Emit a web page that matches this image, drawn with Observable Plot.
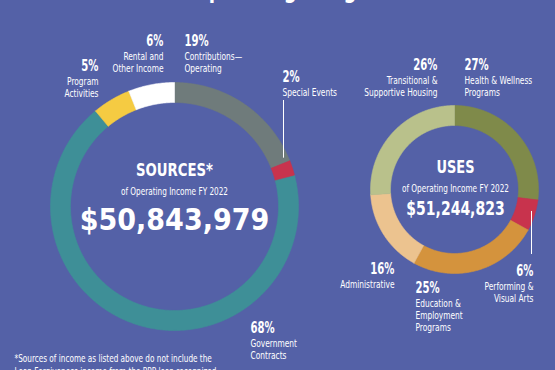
<!DOCTYPE html>
<html><head><meta charset="utf-8">
<script src="https://cdn.jsdelivr.net/npm/d3@7"></script>
<script src="https://cdn.jsdelivr.net/npm/@observablehq/plot@0.6"></script>
<style>
html,body{margin:0;padding:0;background:#5461a7;}
#chart{width:555px;height:370px;overflow:hidden;}
#chart svg{display:block;}
</style></head><body><div id="chart"></div>
<script>
// ---- data ----
const sourceCategories = ["Contributions—Operating","Special Events","Government Contracts","Program Activities","Rental and Other Income"];
const sourceValues = [19, 2, 68, 5, 6];
const sourceLabelLines = [["Contributions—","Operating"],["Special Events"],["Government","Contracts"],["Program","Activities"],["Rental and","Other Income"]];
const sourceColors = ["#6f7b7b","#c8334d","#3e8f97","#f5cb42","#ffffff"];

const useCategories = ["Health & Wellness Programs","Performing & Visual Arts","Education & Employment Programs","Administrative","Transitional & Supportive Housing"];
const useValues = [27, 6, 25, 16, 26];
const useLabelLines = [["Health & Wellness","Programs"],["Performing &","Visual Arts"],["Education &","Employment","Programs"],["Administrative"],["Transitional &","Supportive Housing"]];
const useColors = ["#7f8a4a","#c8334d","#d4933d","#ecc38f","#b9c18b"];

const sourcesTitle = "SOURCES*";
const usesTitle = "USES";
const subTitle = "of Operating Income FY 2022";
const sourcesTotal = "$50,843,979";
const usesTotal = "$51,244,823";
const pageTitle = "Operating Budget";
const footnote = ["*Sources of income as listed above do not include the","Loan Forgiveness income from the PPP loan recognized"];

// ---- layout (positions only) ----
const W = 555, H = 370, BG = "#5461a7";
const FONT = "'DejaVu Sans Condensed','DejaVu Sans',sans-serif";
const rings = {
  sources: {cx: 174, cy: 206, r0: 104, r1: 124},
  uses:    {cx: 454, cy: 189, r0: 64,  r1: 84}
};
// label anchors: [x, pct baseline y, text anchor]
const sourceLabelPos = [[184,45,"start"],[282,81,"start"],[250,332,"start"],[98,70,"end"],[163,45,"end"]];
const useLabelPos = [[464,69,"start"],[533,275,"end"],[415,292,"start"],[394,273,"end"],[437,69,"end"]];
const leaders = {sources: {index: 1, x: 283, y: 100}, uses: {index: 1, x: 531, y: 254}};

function ringPolys(values, colors, ring, key) {
  const total = d3.sum(values);
  const pts = [];
  let acc = 0;
  values.forEach((v, i) => {
    const a0 = acc / total * 2 * Math.PI, a1 = (acc + v) / total * 2 * Math.PI;
    acc += v;
    const n = Math.max(4, Math.ceil((a1 - a0) / 0.01));
    const poly = [];
    for (let k = 0; k <= n; k++) { const a = a0 + (a1 - a0) * k / n; poly.push([ring.cx + ring.r1 * Math.sin(a), ring.cy - ring.r1 * Math.cos(a)]); }
    for (let k = n; k >= 0; k--) { const a = a0 + (a1 - a0) * k / n; poly.push([ring.cx + ring.r0 * Math.sin(a), ring.cy - ring.r0 * Math.cos(a)]); }
    poly.push(poly[0]);
    poly.forEach(([x, y]) => pts.push({x, y, key: key + i, color: colors[i]}));
  });
  return pts;
}
function midPoint(values, idx, ring) {
  const total = d3.sum(values);
  const before = d3.sum(values.slice(0, idx));
  const a = (before + values[idx] / 2) / total * 2 * Math.PI;
  return [ring.cx + ring.r1 * Math.sin(a), ring.cy - ring.r1 * Math.cos(a)];
}

const arcPts = [
  ...ringPolys(sourceValues, sourceColors, rings.sources, "s"),
  ...ringPolys(useValues, useColors, rings.uses, "u")
];

const pctLabels = [], catLabels = [];
sourceValues.forEach((v, i) => {
  const [x, y, a] = sourceLabelPos[i];
  pctLabels.push({x, y, a, t: v + "%"});
  catLabels.push({x, y: y + 6, a, t: sourceLabelLines[i].join("\n")});
});
useValues.forEach((v, i) => {
  const [x, y, a] = useLabelPos[i];
  pctLabels.push({x, y, a, t: v + "%"});
  catLabels.push({x, y: y + 6, a, t: useLabelLines[i].join("\n")});
});

const sEnd = midPoint(sourceValues, leaders.sources.index, rings.sources);
const uEnd = midPoint(useValues, leaders.uses.index, rings.uses);
const leaderLines = [
  {x: leaders.sources.x, y1: leaders.sources.y, y2: sEnd[1] - 10},
  {x: leaders.uses.x, y1: uEnd[1] - 4, y2: leaders.uses.y}
];

const centerBold = [
  {x: 174, y: 175, t: sourcesTitle, s: 18},
  {x: 174, y: 229, t: sourcesTotal, s: 30},
  {x: 455, y: 172, t: usesTitle, s: 18},
  {x: 455, y: 214, t: usesTotal, s: 19}
];
const centerSub = [
  {x: 174, y: 194, t: subTitle},
  {x: 455, y: 191, t: subTitle}
];

const txt = (data, o) => Plot.text(data, {x: "x", y: "y", text: "t", fill: "white", ...o});
const chart = Plot.plot({
  width: W, height: H, margin: 0,
  x: {domain: [0, W], range: [0, W], axis: null},
  y: {domain: [0, H], range: [0, H], axis: null},
  color: {type: "identity"},
  style: {background: BG, fontFamily: FONT, overflow: "hidden"},
  marks: [
    Plot.text([pageTitle], {x: () => 285, y: () => -3, text: d => d, fill: "white", fontSize: 24, fontWeight: "bold", lineAnchor: "bottom", textAnchor: "middle"}),
    Plot.line(arcPts, {x: "x", y: "y", z: "key", fill: "color", stroke: "color", strokeWidth: 0.6, curve: "linear"}),
    Plot.ruleX(leaderLines, {x: "x", y1: "y1", y2: "y2", stroke: "white", strokeWidth: 1}),
    txt(pctLabels.filter(d => d.a === "start"), {textAnchor: "start", fontSize: 15, fontWeight: "bold", lineAnchor: "bottom"}),
    txt(pctLabels.filter(d => d.a === "end"), {textAnchor: "end", fontSize: 15, fontWeight: "bold", lineAnchor: "bottom"}),
    txt(catLabels.filter(d => d.a === "start"), {textAnchor: "start", fontSize: 10, lineHeight: 1.2, lineAnchor: "top"}),
    txt(catLabels.filter(d => d.a === "end"), {textAnchor: "end", fontSize: 10, lineHeight: 1.2, lineAnchor: "top"}),
    txt(centerBold, {fontSize: "s", fontWeight: "bold", lineAnchor: "bottom", textAnchor: "middle"}),
    txt(centerSub, {fontSize: 11, lineAnchor: "bottom", textAnchor: "middle"}),
    Plot.text(footnote, {x: () => 14, y: (d, i) => 361 + i * 13, text: d => d, fill: "white", fontSize: 11, textAnchor: "start", lineAnchor: "bottom"})
  ]
});

// condensed look: horizontal squeeze per text kind
const squeeze = new Map();
pctLabels.forEach(d => squeeze.set(d.t, 0.75));
catLabels.forEach(d => squeeze.set(d.t.replace(/\n/g, ""), 0.83));
squeeze.set(subTitle, 0.74);
squeeze.set(sourcesTitle, 0.82);
squeeze.set(usesTitle, 0.8);
squeeze.set(sourcesTotal, 1.0);
squeeze.set(usesTotal, 0.82);
footnote.forEach(t => squeeze.set(t, 0.74));
squeeze.set(pageTitle, 0.85);
d3.select(chart).selectAll("text").each(function () {
  const s = squeeze.get(this.textContent);
  if (s == null || s === 1) return;
  const tr = this.getAttribute("transform");
  if (tr) this.setAttribute("transform", tr + ` scale(${s},1)`);
  else {
    const x = +this.getAttribute("x") || 0, y = +this.getAttribute("y") || 0;
    this.removeAttribute("x"); this.removeAttribute("y");
    this.setAttribute("transform", `translate(${x},${y}) scale(${s},1)`);
  }
});
document.getElementById("chart").appendChild(chart);
</script></body></html>
